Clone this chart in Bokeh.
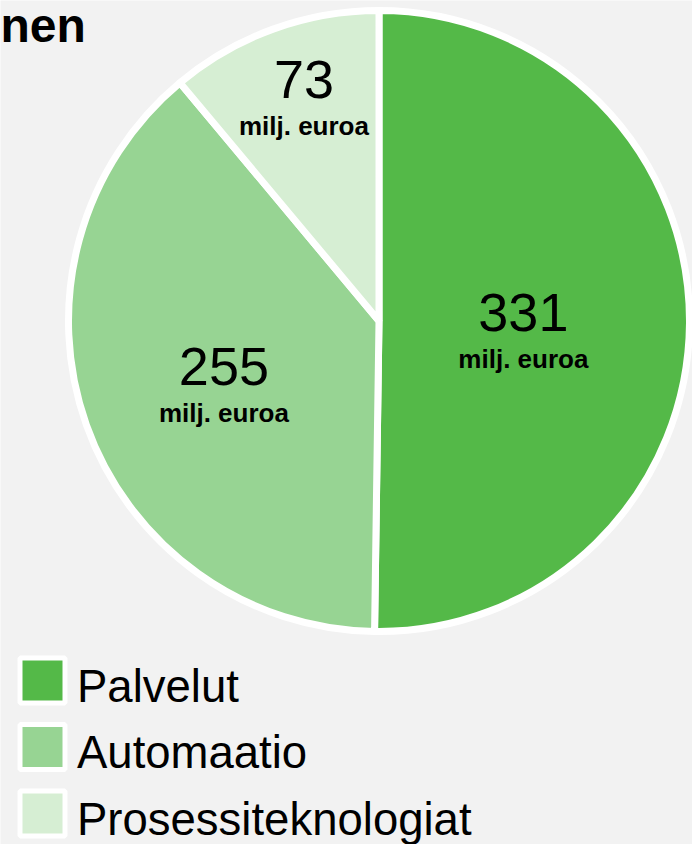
import math
from bokeh.plotting import figure
from bokeh.models import ColumnDataSource, Range1d
from bokeh.core.properties import value
from bokeh.embed import file_html
from bokeh.resources import INLINE

# ---- data ----
categories = ["Palvelut", "Automaatio", "Prosessiteknologiat"]
values = [331, 255, 73]
value_labels = ["331", "255", "73"]
unit_label = "milj. euroa"
title_text = "nen"

# ---- styles / layout ----
colors = ["#54b948", "#97d493", "#d6eed3"]
BG = "#f2f2f2"
FONT = "Liberation Sans"
W, H = 692, 844
CX, CY = 378.5, H - 320.5
R = 310.5
label_radius = [0.465, 0.53, 0.785]
label_angle_nudge = [0.0, 0.0, 2.0]  # degrees, clockwise
K = 0.36  # baseline compensation (fraction of font size)

total = float(sum(values))
starts, ends, mids = [], [], []
acc = 0.0
for v, nd in zip(values, label_angle_nudge):
    a0 = acc / total * 360.0
    acc += v
    a1 = acc / total * 360.0
    starts.append(math.radians(90 - a0))
    ends.append(math.radians(90 - a1))
    mids.append(math.radians(90 - (a0 + a1) / 2 - nd))

pie_src = ColumnDataSource(dict(cat=categories, val=values, start=starts, end=ends, color=colors))

lab_x, lab_y = [], []
for m, rf in zip(mids, label_radius):
    lab_x.append(CX + rf * R * math.cos(m))
    lab_y.append(CY + rf * R * math.sin(m))
num_src = ColumnDataSource(dict(x=lab_x, y=[y - 10 + K * 54 for y in lab_y], t=value_labels))
unit_src = ColumnDataSource(dict(x=lab_x, y=[y - 46 + K * 26 for y in lab_y], t=[unit_label] * len(values)))

p = figure(width=W, height=H, x_range=Range1d(0, W), y_range=Range1d(0, H),
           x_axis_type=None, y_axis_type=None, min_border=0,
           toolbar_location=None, output_backend="svg",
           background_fill_color=BG, border_fill_color=BG)
p.grid.visible = False
p.outline_line_color = None

p.wedge(x=CX, y=CY, radius=R, start_angle="start", end_angle="end", direction="clock",
        fill_color="color", line_color="white", line_width=7, source=pie_src)

p.text(x="x", y="y", text="t", source=num_src, text_align="center", text_baseline="alphabetic",
       text_font=value(FONT), text_font_size=value("54px"), text_color="black")
p.text(x="x", y="y", text="t", source=unit_src, text_align="center", text_baseline="alphabetic",
       text_font=value(FONT), text_font_size=value("26px"), text_font_style="bold", text_color="black")

# title (cropped in the original)
p.text(x=[0], y=[H - 42 + K * 48], text=[title_text], text_align="left", text_baseline="alphabetic",
       text_font=value(FONT), text_font_size=value("48px"), text_font_style="bold", text_color="black")

# legend
row_cy = [H - (680 + 66.5 * i) for i in range(len(categories))]
leg_src = ColumnDataSource(dict(x=[42] * len(categories), y=row_cy, color=colors,
                                tx=[76.5] * len(categories), ty=[y - 22 + K * 45.5 for y in row_cy], t=categories))
p.rect(x="x", y="y", width=45, height=45, fill_color="color", line_color="white", line_width=5, source=leg_src)
p.text(x="tx", y="ty", text="t", source=leg_src, text_align="left", text_baseline="alphabetic",
       text_font=value(FONT), text_font_size=value("45.5px"), text_color="black")

open("out.html", "w").write(file_html(p, INLINE))
